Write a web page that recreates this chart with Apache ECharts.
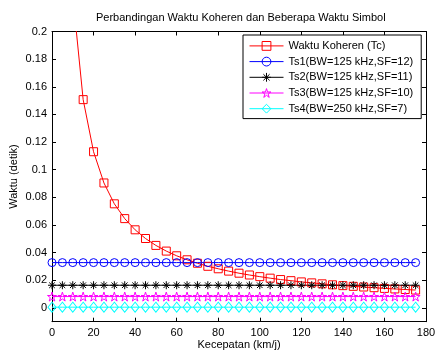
<!DOCTYPE html>
<html>
<head>
<meta charset="utf-8">
<script src="https://cdn.jsdelivr.net/npm/echarts@6/dist/echarts.min.js"></script>
<style>
html,body{margin:0;padding:0;background:#fff;}
#chart{width:436px;height:352px;}
</style>
</head>
<body>
<div id="chart"></div>
<script>
const titleText = 'Perbandingan Waktu Koheren dan Beberapa Waktu Simbol';
const xName = 'Kecepatan (km/j)';
const yName = 'Waktu (detik)';
const seriesNames = ['Waktu Koheren (Tc)', 'Ts1(BW=125 kHz,SF=12)', 'Ts2(BW=125 kHz,SF=11)', 'Ts3(BW=125 kHz,SF=10)', 'Ts4(BW=250 kHz,SF=7)'];
const speeds = [0,5,10,15,20,25,30,35,40,45,50,55,60,65,70,75,80,85,90,95,100,105,110,115,120,125,130,135,140,145,150,155,160,165,170,175];
const tc = [null,0.452,0.226,0.1507,0.113,0.0904,0.0753,0.0646,0.0565,0.0502,0.0452,0.0411,0.0377,0.0348,0.0323,0.0301,0.0283,0.0266,0.0251,0.0238,0.0226,0.0215,0.0205,0.0197,0.0188,0.0181,0.0174,0.0167,0.0161,0.0156,0.0151,0.0146,0.0141,0.0137,0.0133,0.0129];
const ts1 = [0.032768,0.032768,0.032768,0.032768,0.032768,0.032768,0.032768,0.032768,0.032768,0.032768,0.032768,0.032768,0.032768,0.032768,0.032768,0.032768,0.032768,0.032768,0.032768,0.032768,0.032768,0.032768,0.032768,0.032768,0.032768,0.032768,0.032768,0.032768,0.032768,0.032768,0.032768,0.032768,0.032768,0.032768,0.032768,0.032768];
const ts2 = [0.016384,0.016384,0.016384,0.016384,0.016384,0.016384,0.016384,0.016384,0.016384,0.016384,0.016384,0.016384,0.016384,0.016384,0.016384,0.016384,0.016384,0.016384,0.016384,0.016384,0.016384,0.016384,0.016384,0.016384,0.016384,0.016384,0.016384,0.016384,0.016384,0.016384,0.016384,0.016384,0.016384,0.016384,0.016384,0.016384];
const ts3 = [0.008192,0.008192,0.008192,0.008192,0.008192,0.008192,0.008192,0.008192,0.008192,0.008192,0.008192,0.008192,0.008192,0.008192,0.008192,0.008192,0.008192,0.008192,0.008192,0.008192,0.008192,0.008192,0.008192,0.008192,0.008192,0.008192,0.008192,0.008192,0.008192,0.008192,0.008192,0.008192,0.008192,0.008192,0.008192,0.008192];
const ts4 = [0.000512,0.000512,0.000512,0.000512,0.000512,0.000512,0.000512,0.000512,0.000512,0.000512,0.000512,0.000512,0.000512,0.000512,0.000512,0.000512,0.000512,0.000512,0.000512,0.000512,0.000512,0.000512,0.000512,0.000512,0.000512,0.000512,0.000512,0.000512,0.000512,0.000512,0.000512,0.000512,0.000512,0.000512,0.000512,0.000512];
const yTicks = [0,0.02,0.04,0.06,0.08,0.1,0.12,0.14,0.16,0.18,0.2];

const FONT = 'Liberation Sans, Arial, sans-serif';
const starPath = 'path://M0,-1L0.223,-0.307L0.951,-0.309L0.361,0.117L0.588,0.809L0,0.38L-0.588,0.809L-0.361,0.117L-0.951,-0.309L-0.223,-0.307Z';
const astPath = 'path://M0,-1L0,1M-1,0L1,0M-0.7,-0.7L0.7,0.7M-0.7,0.7L0.7,-0.7';

function pairs(arr){ return speeds.map((v,i)=>[v, arr[i]]); }

function mk(name, arr, color, symbol, size){
  return {
    name: name, type: 'line', data: pairs(arr), symbol: symbol, symbolSize: size,
    showAllSymbol: true, clip: true, connectNulls: false,
    lineStyle: {color: color, width: 1},
    itemStyle: {color: 'none', borderColor: color, borderWidth: 1},
    emphasis: {disabled: true}, animation: false, z: 3
  };
}

const chart = echarts.init(document.getElementById('chart'), null, {renderer: 'canvas'});
const axisCommon = {
  axisLine: {show: true, onZero: false, lineStyle: {color: '#000', width: 1}},
  splitLine: {show: false}
};
chart.setOption({
  animation: false,
  backgroundColor: '#fff',
  title: {
    text: titleText, left: 91, top: 7,
    textStyle: {fontFamily: FONT, fontSize: 11, fontWeight: 'normal', color: '#000'}
  },
  grid: {left: 52, right: 10, top: 31.5, bottom: 30.3, containLabel: false, outerBoundsMode: 'none'},
  legend: {
    orient: 'vertical', left: 243, top: 35,
    data: seriesNames,
    backgroundColor: '#fff', borderColor: '#000', borderWidth: 1, borderRadius: 0,
    padding: [4, 8, 3, 6],
    itemWidth: 34, itemHeight: 11, itemGap: 1.9,
    lineStyle: {width: 1},
    itemStyle: {borderWidth: 1},
    textStyle: {fontFamily: FONT, fontSize: 11, color: '#000'},
    selectedMode: false
  },
  xAxis: [
    Object.assign({}, axisCommon, {
      type: 'value', min: 0, max: 180, interval: 20, position: 'bottom',
      name: xName, nameLocation: 'middle', nameGap: 17.5, nameMoveOverlap: false,
      nameTextStyle: {fontFamily: FONT, fontSize: 11, color: '#000'},
      axisTick: {show: true, inside: true, length: 4, lineStyle: {color: '#000'}},
      axisLabel: {fontFamily: FONT, fontSize: 11, color: '#000', margin: 6}
    }),
    Object.assign({}, axisCommon, {
      type: 'value', min: 0, max: 180, interval: 20, position: 'top',
      axisTick: {show: true, inside: true, length: 4, lineStyle: {color: '#000'}},
      axisLabel: {show: false}
    })
  ],
  yAxis: [
    Object.assign({}, axisCommon, {
      type: 'value', min: -0.01, max: 0.2, position: 'left',
      name: yName, nameLocation: 'middle', nameGap: 33, nameRotate: 90, nameMoveOverlap: false,
      nameTextStyle: {fontFamily: FONT, fontSize: 11, color: '#000'},
      axisTick: {show: true, inside: true, length: 4, lineStyle: {color: '#000'}, customValues: yTicks},
      axisLabel: {fontFamily: FONT, fontSize: 11, color: '#000', margin: 5, customValues: yTicks}
    }),
    Object.assign({}, axisCommon, {
      type: 'value', min: -0.01, max: 0.2, position: 'right',
      axisTick: {show: true, inside: true, length: 4, lineStyle: {color: '#000'}, customValues: yTicks},
      axisLabel: {show: false, customValues: yTicks}
    })
  ],
  series: [
    mk(seriesNames[0], tc, '#ff0000', 'rect', 8),
    mk(seriesNames[1], ts1, '#0000ff', 'circle', 8),
    mk(seriesNames[2], ts2, '#000000', astPath, 8),
    mk(seriesNames[3], ts3, '#ff00ff', starPath, 9),
    mk(seriesNames[4], ts4, '#00ffff', 'diamond', [8,10])
  ]
});
</script>
</body>
</html>
